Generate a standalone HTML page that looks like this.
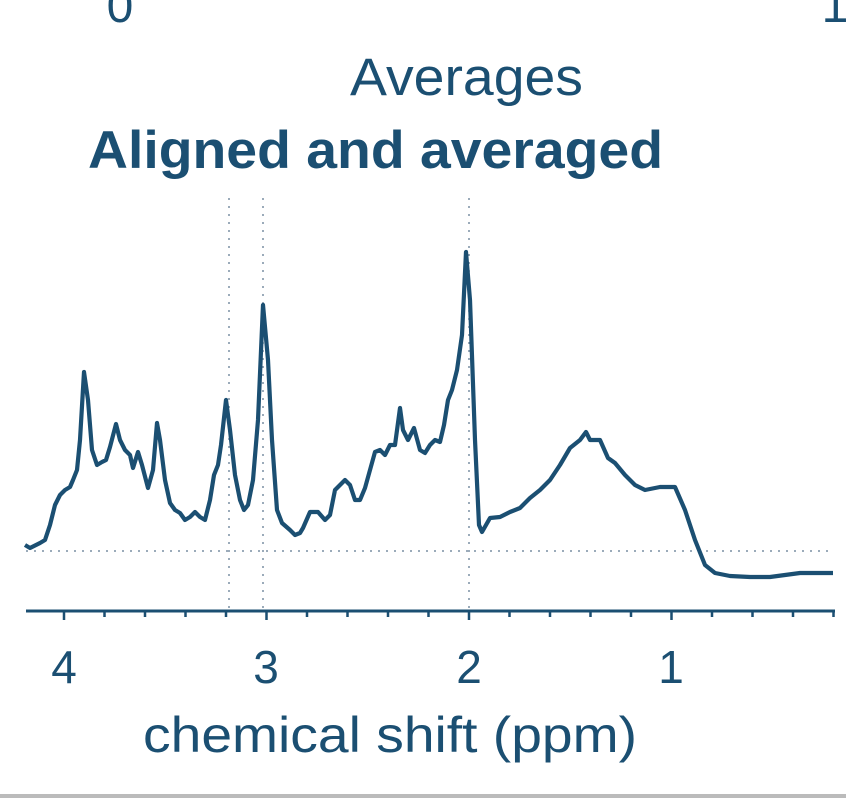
<!DOCTYPE html>
<html><head><style>html,body{margin:0;padding:0;background:#fff}svg{display:block}</style></head>
<body>
<svg width="846" height="798" viewBox="0 0 846 798" xmlns="http://www.w3.org/2000/svg" font-family="Liberation Sans, sans-serif" fill="#1b4f72">
<text x="120" y="22" font-size="48" text-anchor="middle">0</text>
<text x="835" y="22" font-size="48" text-anchor="middle">1</text>
<text x="350" y="95" font-size="53" textLength="233" lengthAdjust="spacingAndGlyphs">Averages</text>
<text x="88" y="168" font-size="53" font-weight="bold" textLength="575" lengthAdjust="spacingAndGlyphs">Aligned and averaged</text>
<g stroke="#7a8fa3" stroke-width="1.5" stroke-dasharray="2,6" fill="none">
<line x1="229" y1="198" x2="229" y2="610"/>
<line x1="263" y1="198" x2="263" y2="610"/>
<line x1="469" y1="198" x2="469" y2="610"/>
<line x1="26" y1="551" x2="834" y2="551"/>
</g>
<g stroke="#1b4f72" fill="none">
<line x1="26" y1="611" x2="835" y2="611" stroke-width="3"/>
<g stroke-width="2.5">
<path d="M64 611v9M266.5 611v9M469 611v9M671.5 611v9"/>
<path d="M104.5 611v6M145 611v6M185.5 611v6M226 611v6M307 611v6M347.5 611v6M388 611v6M428.5 611v6M509.5 611v6M550 611v6M590.5 611v6M631 611v6M712 611v6M752.5 611v6M793 611v6M833.5 611v6"/>
</g>
<polyline stroke-width="4.2" stroke-linejoin="round" points="25,545 30,548 40,543 45,540 50,525 55,505 60,495 65,490 70,487 73,480 77,470 80,440 84,372 88,400 92,450 97,465 102,462 106,460 110,447 116,424 120,440 125,450 130,455 133,468 138,452 142,465 148,488 153,470 157,423 160,440 165,480 170,503 175,510 180,513 185,520 190,517 195,512 200,517 205,520 210,500 214,475 218,465 221,445 226,400 230,430 235,475 240,500 244,510 248,505 253,480 258,420 263,305 268,360 272,440 277,510 282,523 290,530 295,535 300,533 303,528 310,512 318,512 325,520 330,515 335,490 340,485 345,480 350,485 355,500 360,500 365,488 370,470 375,452 380,450 385,455 390,445 395,445 400,408 403,430 408,440 414,428 420,450 425,453 430,445 435,440 440,442 444,425 448,400 452,390 457,370 462,335 466,252 470,300 475,440 479,525 482,532 490,518 500,517 510,512 520,508 530,498 540,490 550,480 560,465 570,448 580,440 586,432 590,440 600,440 608,458 615,463 625,475 635,485 645,490 660,487 675,487 685,510 695,540 705,565 715,573 730,576 750,577 770,577 800,573 820,573 833,573"/>
</g>
<text x="64" y="683" font-size="46" text-anchor="middle">4</text>
<text x="266" y="683" font-size="46" text-anchor="middle">3</text>
<text x="469" y="683" font-size="46" text-anchor="middle">2</text>
<text x="671" y="683" font-size="46" text-anchor="middle">1</text>
<text x="143" y="752" font-size="50" textLength="494" lengthAdjust="spacingAndGlyphs">chemical shift (ppm)</text>
<rect x="0" y="794" width="846" height="4" fill="#bbbbbb"/>
</svg>
</body></html>
